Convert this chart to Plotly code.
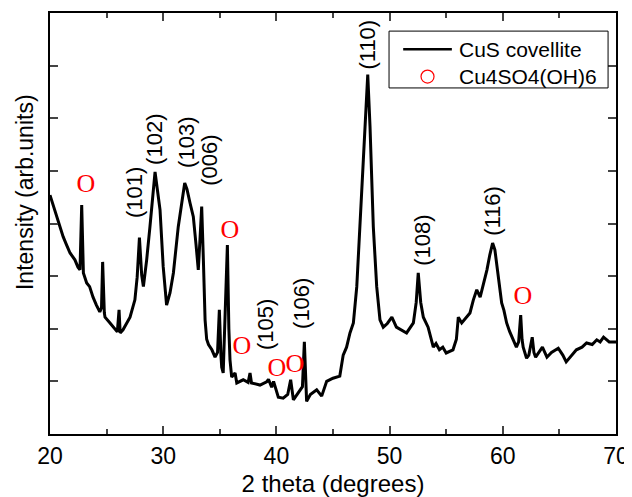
import plotly.graph_objects as go

two_theta = [20.0, 20.59, 21.16, 21.47, 21.77, 22.2, 22.47, 22.65, 22.8, 22.95, 23.24, 23.5, 23.8, 24.1, 24.4, 24.55,
             24.65, 24.8, 24.86, 25.3, 25.74, 25.95, 26.1, 26.2, 26.45, 27.07, 27.5, 27.7, 27.9, 28.1, 28.25, 28.54,
             28.83, 29.28, 29.72, 30.0, 30.3, 30.6, 30.9, 31.33, 31.9, 32.1, 32.37, 32.66, 32.9, 33.1, 33.25, 33.4,
             33.55, 33.7, 33.84, 34.0, 34.3, 34.58, 34.8, 34.96, 35.1, 35.17, 35.3, 35.45, 35.67, 35.8, 35.9, 36.05,
             36.35, 36.5, 37.07, 37.5, 37.67, 37.8, 38.55, 39.14, 39.3, 39.58, 39.75, 40.17, 40.6, 41.0, 41.26, 41.5,
             41.93, 42.3, 42.47, 42.67, 43.0, 43.56, 44.0, 44.44, 45.0, 45.6, 45.9, 46.2, 46.5, 46.8, 47.1, 47.4,
             47.68, 48.07, 48.27, 48.56, 48.86, 49.15, 49.44, 49.8, 50.2, 50.6, 51.0, 51.5, 52.1, 52.35, 52.53, 52.75,
             52.98, 53.4, 53.86, 54.1, 54.4, 54.7, 55.0, 55.6, 55.9, 56.07, 56.37, 56.7, 57.1, 57.4, 57.7, 58.0, 58.3,
             58.6, 58.85, 59.1, 59.3, 59.46, 59.7, 59.9, 60.1, 60.34, 60.6, 60.9, 61.2, 61.4, 61.58, 61.7, 61.8, 62.1,
             62.3, 62.6, 62.75, 62.9, 63.2, 63.5, 63.9, 64.3, 64.9, 65.3, 65.6, 66.0, 66.5, 67.0, 67.4, 67.9, 68.3,
             68.6, 68.9, 69.4, 70.0]
intensity = [454, 413, 375, 359, 344, 331, 317, 312, 435, 306, 287, 280, 260, 245, 232, 240,
             327, 230, 222, 211, 198, 194, 236, 192, 198, 222, 255, 298, 373, 302, 280, 331,
             394, 498, 426, 318, 245, 268, 306, 394, 477, 465, 439, 413, 360, 312, 370, 432,
             330, 217, 180, 170, 160, 146, 155, 236, 150, 127, 116, 200, 359, 200, 141, 108,
             116, 97, 103, 98, 116, 97, 93, 99, 104, 89, 100, 70, 68, 75, 103, 65,
             78, 90, 175, 62, 75, 84, 72, 100, 106, 110, 150, 165, 192, 211, 280, 394,
             521, 683, 584, 394, 280, 217, 203, 210, 222, 203, 198, 192, 211, 250, 306, 250,
             222, 203, 165, 172, 160, 165, 154, 160, 180, 222, 211, 220, 230, 255, 274, 260, 285,
             312, 340, 363, 350, 325, 280, 249, 235, 211, 195, 179, 165, 175, 226, 180, 165, 144,
             150, 184, 155, 146, 155, 165, 146, 155, 163, 150, 137, 148, 160, 165, 173, 170, 179,
             175, 184, 175, 175]

hkl_labels = ["(101)", "(102)", "(103)", "(006)", "(105)", "(106)", "(108)", "(110)", "(116)"]
hkl_x = [27.51, 29.28, 32.1, 34.13, 38.99, 42.26, 52.95, 48.09, 59.13]
hkl_y = [458, 559, 555, 521, 209, 249, 369, 740, 424]

o_x = [23.18, 35.9, 36.96, 40.05, 41.64, 61.78]
o_y = [473, 384, 165, 122, 131, 260]

x_ticks = [20, 30, 40, 50, 60, 70]
series_names = ["CuS covellite", "Cu4SO4(OH)6"]

fig = go.Figure()
fig.add_trace(go.Scatter(x=two_theta, y=intensity, mode="lines", showlegend=False,
                         line=dict(color="black", width=3), name=series_names[0]))
fig.add_trace(go.Scatter(x=o_x, y=o_y, mode="text", text=["O"] * len(o_x), showlegend=False,
                         name=series_names[1],
                         textfont=dict(family="Liberation Serif", size=26, color="red"),
                         hoverinfo="skip"))

for lab, lx, ly in zip(hkl_labels, hkl_x, hkl_y):
    fig.add_annotation(x=lx, y=ly, xref="x", yref="y", text=lab, showarrow=False, textangle=-90,
                       font=dict(family="Liberation Sans", size=22, color="black"))

fig.add_annotation(x=-0.044, y=0.575, xref="paper", yref="paper", text="Intensity (arb.units)",
                   showarrow=False, textangle=-90, xanchor="center", yanchor="middle",
                   font=dict(family="Liberation Sans", size=23, color="black"))

# legend box (drawn in paper coordinates)
fig.add_shape(type="rect", xref="paper", yref="paper", x0=0.599, x1=0.986, y0=0.822, y1=0.957,
              line=dict(color="black", width=1), fillcolor="white", layer="above")
fig.add_shape(type="line", xref="paper", yref="paper", x0=0.624, x1=0.710, y0=0.914, y1=0.914,
              line=dict(color="black", width=2.5), layer="above")
fig.add_shape(type="circle", xref="paper", yref="paper", x0=0.6555, x1=0.6785, y0=0.8335, y1=0.8645,
              line=dict(color="red", width=1.2), layer="above")
fig.add_annotation(x=0.719, y=0.914, xref="paper", yref="paper", text=series_names[0], showarrow=False,
                   xanchor="left", yanchor="middle", font=dict(family="Liberation Sans", size=21))
fig.add_annotation(x=0.719, y=0.849, xref="paper", yref="paper", text=series_names[1], showarrow=False,
                   xanchor="left", yanchor="middle", font=dict(family="Liberation Sans", size=21))

fig.update_layout(
    width=624, height=489,
    margin=dict(l=42, r=16, t=5, b=63),
    paper_bgcolor="white", plot_bgcolor="white",
    font=dict(family="Liberation Sans", size=22, color="black"),
    showlegend=False,
    xaxis=dict(range=[20, 70], tickvals=x_ticks, ticks="inside", ticklen=8, tickwidth=1.5,
               showline=True, linecolor="black", linewidth=2, mirror="ticks", showgrid=False,
               zeroline=False, tickfont=dict(size=23), ticklabelstandoff=0, automargin=False,
               minor=dict(dtick=5, tick0=0, ticks="inside", ticklen=5, tickwidth=1.5, showgrid=False),
               title=dict(text="2 theta (degrees)", standoff=14,
                          font=dict(family="Liberation Sans", size=24))),
    yaxis=dict(range=[0, 800], tickvals=[100, 200, 300, 400, 500, 600, 700], showticklabels=False,
               ticks="inside", ticklen=8, tickwidth=1.5, showline=True, linecolor="black", linewidth=2,
               mirror="ticks", showgrid=False, zeroline=False, automargin=False),
)

fig.write_html("out.html")
